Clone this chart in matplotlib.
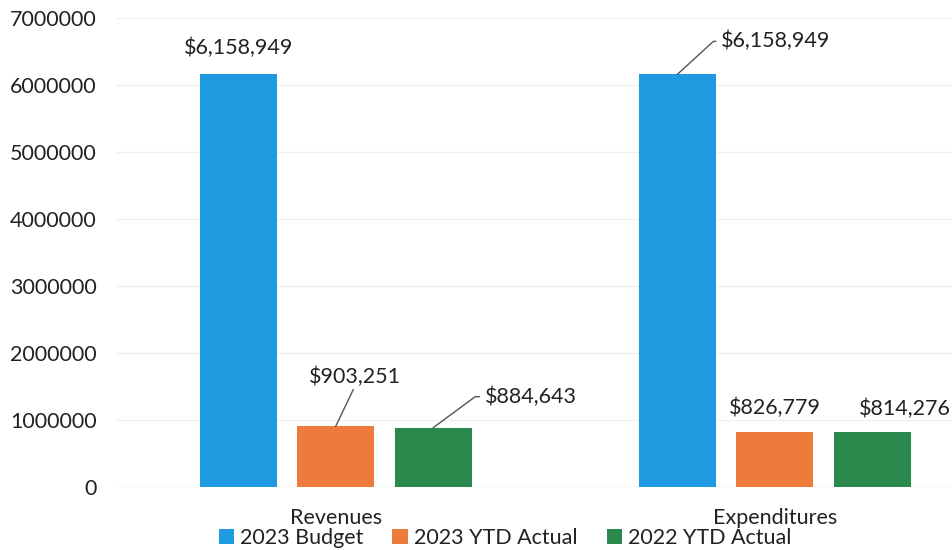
import matplotlib
matplotlib.use("Agg")
import matplotlib.pyplot as plt
import numpy as np

categories = ["Revenues", "Expenditures"]
series_names = ["2023 Budget", "2023 YTD Actual", "2022 YTD Actual"]
budget_2023 = [6158949, 6158949]
ytd_2023 = [903251, 826779]
ytd_2022 = [884643, 814276]
yticks = [0, 1000000, 2000000, 3000000, 4000000, 5000000, 6000000, 7000000]

colors = ["#1E9BE0", "#EC7B3C", "#2A8A4E"]
plt.rcParams['font.family'] = ['Lato', 'DejaVu Sans']

fig = plt.figure(figsize=(9.53, 5.5), dpi=100)
ax = fig.add_axes([116/953, 63/550, 1 - 116/953, (487-18)/550])

x = np.arange(len(categories))
width = 0.175
pitch = 0.222
all_series = [budget_2023, ytd_2023, ytd_2022]
bars = []
for i, (vals, name, c) in enumerate(zip(all_series, series_names, colors)):
    b = ax.bar(x + (i - 1) * pitch, vals, width, color=c, label=name, zorder=3)
    bars.append(b)

ax.set_ylim(0, 7000000)
ax.set_xlim(-0.5, (953-336)/439)
ax.set_yticks(yticks)
ax.set_yticklabels([str(v) for v in yticks])
ax.set_xticks(x)
ax.set_xticklabels(categories)
ax.tick_params(axis='y', length=0, labelsize=15.5, pad=14, colors='#222222')
ax.tick_params(axis='x', length=0, labelsize=15.5, pad=15, colors='#222222')
for s in ax.spines.values():
    s.set_visible(False)
ax.axhline(0, color='#d9d9d9', lw=1, zorder=2)
ax.grid(axis='y', color='#f0f0f0', lw=1, zorder=0)
ax.set_axisbelow(True)

def fmt(v):
    return "${:,}".format(v)

lc = '#555555'
txtkw = dict(fontsize=15.5, color='#222222', textcoords='offset pixels')

# Revenues budget
r = bars[0][0]
ax.annotate(fmt(budget_2023[0]), (r.get_x() + r.get_width()/2, r.get_height()),
            xytext=(0, 26), ha='center', va='center', **txtkw)
# Revenues 2023 YTD
r = bars[1][0]
ax.annotate(fmt(ytd_2023[0]), (r.get_x() + r.get_width()/2, r.get_height()),
            xytext=(19, 50), ha='center', va='center', **txtkw,
            arrowprops=dict(arrowstyle='-', color=lc, lw=1, shrinkA=0, shrinkB=0,
                            relpos=(0.5, 0)))
# Revenues 2022 YTD
r = bars[2][0]
ax.annotate(fmt(ytd_2022[0]), (r.get_x() + r.get_width()/2, r.get_height()),
            xytext=(52, 31), ha='left', va='center', **txtkw,
            arrowprops=dict(arrowstyle='-', color=lc, lw=1, shrinkA=2, shrinkB=0,
                            relpos=(0, 0.5),
                            connectionstyle="arc,angleA=180,armA=10,angleB=0,armB=0,rad=0"))
# Expenditures budget
r = bars[0][1]
ax.annotate(fmt(budget_2023[1]), (r.get_x() + r.get_width()/2, r.get_height()),
            xytext=(44, 33), ha='left', va='center', **txtkw,
            arrowprops=dict(arrowstyle='-', color=lc, lw=1, shrinkA=2, shrinkB=0,
                            relpos=(0, 0.5),
                            connectionstyle="arc,angleA=180,armA=8,angleB=0,armB=0,rad=0"))
# Expenditures 2023 YTD
r = bars[1][1]
ax.annotate(fmt(ytd_2023[1]), (r.get_x() + r.get_width()/2, r.get_height()),
            xytext=(0, 24), ha='center', va='center', **txtkw)
# Expenditures 2022 YTD
r = bars[2][1]
ax.annotate(fmt(ytd_2022[1]), (r.get_x() + r.get_width()/2, r.get_height()),
            xytext=(32, 24), ha='center', va='center', annotation_clip=False, **txtkw)

fig.legend(loc='center', bbox_to_anchor=(505/953, 12/550), ncol=3, frameon=False,
           fontsize=15.5, handlelength=0.7, handleheight=0.7, handletextpad=0.3,
           columnspacing=1.35, borderpad=0, labelcolor='#222222')

fig.savefig("out.png", dpi=100)
